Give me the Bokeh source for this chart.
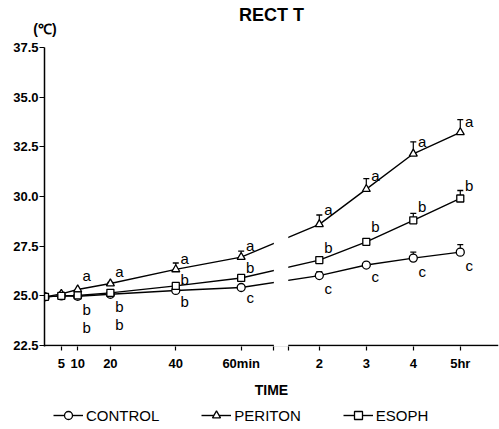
from bokeh.plotting import figure
from bokeh.layouts import column
from bokeh.models import (Range1d, FixedTicker, Legend, LegendItem, NumeralTickFormatter,
                          LinearAxis)
from bokeh.embed import file_html
from bokeh.resources import INLINE
from bokeh.core.properties import value

# ---------------- data ----------------
minutes = [0, 5, 10, 20, 40, 60]
hours = [2, 3, 4, 5]
minute_labels = ["5", "10", "20", "40", "60min"]
hour_labels = ["2", "3", "4", "5hr"]

control = [24.95, 25.0, 24.98, 25.08, 25.27, 25.42, 26.02, 26.55, 26.9, 27.2]
periton = [24.95, 25.1, 25.32, 25.62, 26.33, 26.95, 28.6, 30.37, 32.15, 33.23]
esoph = [24.95, 25.0, 25.02, 25.15, 25.5, 25.9, 26.8, 27.72, 28.8, 29.9]
control_err = [0, 0, 0, 0, 0, 0, 0.2, 0, 0.3, 0.38]
periton_err = [0, 0, 0, 0.05, 0.32, 0.3, 0.47, 0.53, 0.6, 0.64]
esoph_err = [0, 0, 0, 0, 0, 0, 0, 0.1, 0.35, 0.4]

# significance letters (top to bottom) per time point
letter_minutes = [10, 20, 40, 60]
letter_hours = [2, 3, 4, 5]
letters = [["a", "b", "b"], ["a", "b", "b"], ["a", "b", "b"], ["a", "b", "c"],
           ["a", "b", "c"], ["a", "b", "c"], ["a", "b", "c"], ["a", "b", "c"]]
letter_y = [[26.0, 24.3, 23.4], [26.25, 24.45, 23.55], [26.9, 25.8, 24.73], [27.53, 26.45, 24.92],
            [29.35, 27.45, 25.35], [31.05, 28.5, 25.95], [32.75, 29.5, 26.25], [33.8, 30.55, 26.55]]

y_ticks = [22.5, 25.0, 27.5, 30.0, 32.5, 35.0, 37.5]

# ---------------- broken time scale ----------------
HOUR_ORIGIN = 55.16   # axis unit of hour 0 on the right-hand segment
HOUR_SCALE = 14.37    # axis units per hour on the right-hand segment
BREAK_LEFT, BREAK_RIGHT = 70.0, 74.4


def hpos(h):
    return HOUR_ORIGIN + HOUR_SCALE * h


xs = [float(m) for m in minutes] + [hpos(h) for h in hours]

FONT = value("Liberation Sans")

p = figure(width=499, height=400, output_backend="svg", toolbar_location=None,
           x_range=Range1d(-0.15, 138.7), y_range=Range1d(22.45, 37.5),
           min_border_left=44, min_border_right=1, min_border_top=47, min_border_bottom=52)
p.outline_line_color = None
p.grid.visible = False
p.background_fill_color = "white"
p.border_fill_color = "white"

# y axis
p.yaxis.ticker = FixedTicker(ticks=y_ticks)
p.yaxis.formatter = NumeralTickFormatter(format="0.0")
p.yaxis.major_tick_in = 0
p.yaxis.major_tick_out = 5
p.yaxis.minor_tick_line_color = None
p.yaxis.axis_line_width = 1.5
p.yaxis.major_label_text_font = "Liberation Sans"
p.yaxis.major_label_text_font_style = "bold"
p.yaxis.major_label_text_font_size = "13px"
p.yaxis.major_label_text_color = "black"
p.yaxis.major_label_standoff = 1
p.yaxis.axis_line_color = "black"

# x axis (line drawn manually so that it can be broken)
x_ticks = [float(m) for m in minutes[1:]] + [hpos(h) for h in hours] + [BREAK_LEFT, BREAK_RIGHT]
overrides = {}
for t, lab in zip([float(m) for m in minutes[1:]], minute_labels):
    overrides[t] = lab
for h, lab in zip(hours, hour_labels):
    overrides[hpos(h)] = lab
overrides[BREAK_LEFT] = ""
overrides[BREAK_RIGHT] = ""
p.xaxis.ticker = FixedTicker(ticks=x_ticks)
p.xaxis.major_label_overrides = overrides
p.xaxis.axis_line_color = None
p.xaxis.major_tick_in = 0
p.xaxis.major_tick_out = 4
p.xaxis.major_tick_line_width = 1.2
p.xaxis.minor_tick_line_color = None
p.xaxis.major_label_text_font = "Liberation Sans"
p.xaxis.major_label_text_font_style = "bold"
p.xaxis.major_label_text_font_size = "13px"
p.xaxis.major_label_text_color = "black"
p.xaxis.major_label_standoff = 5
p.xaxis.axis_label = "TIME"
p.xaxis.axis_label_text_font = "Liberation Sans"
p.xaxis.axis_label_text_font_style = "bold"
p.xaxis.axis_label_text_font_size = "14px"
p.xaxis.axis_label_text_color = "black"
p.xaxis.axis_label_standoff = 8

# top axis: carries the unit "(℃)" at the origin and the title "RECT T"
top = LinearAxis(ticker=FixedTicker(ticks=[0.0]), major_label_overrides={0.0: "(℃)"},
                 axis_line_color=None, major_tick_line_color=None, minor_tick_line_color=None,
                 major_tick_in=0, major_tick_out=0, major_label_standoff=11,
                 major_label_text_align="right",
                 major_label_text_font="Liberation Sans", major_label_text_font_style="bold",
                 major_label_text_font_size="14px", major_label_text_color="black",
                 axis_label="RECT T", axis_label_standoff=-7,
                 axis_label_text_font="Liberation Sans", axis_label_text_font_style="bold",
                 axis_label_text_font_size="18px", axis_label_text_color="black")
p.add_layout(top, "above")

p.segment(x0=[-0.15], y0=[y_ticks[0]], x1=[138.7], y1=[y_ticks[0]], line_color="black", line_width=1.5)

# series
series = [("CONTROL", control, control_err, "circle", 8),
          ("PERITON", periton, periton_err, "triangle", 8),
          ("ESOPH", esoph, esoph_err, "square", 7)]

for name, vals, errs, marker, size in series:
    p.line(xs, vals, line_color="black", line_width=1.4)

# break in the lines and in the axis
p.quad(left=[BREAK_LEFT], right=[BREAK_RIGHT], bottom=[22.45], top=[37.5],
       fill_color="white", line_color=None)

for name, vals, errs, marker, size in series:
    ex = [x for x, e in zip(xs, errs) if e > 0]
    ey0 = [v for v, e in zip(vals, errs) if e > 0]
    ey1 = [v + e for v, e in zip(vals, errs) if e > 0]
    p.segment(x0=ex, y0=ey0, x1=ex, y1=ey1, line_color="black", line_width=1.2)
    p.scatter(ex, ey1, marker="dash", size=6, line_color="black", line_width=1.4)
    p.scatter(xs, vals, marker=marker, size=size, fill_color="white",
              line_color="black", line_width=1.3)

# significance letters
lx, ly, lt = [], [], []
lpos = [float(m) for m in letter_minutes] + [hpos(h) for h in letter_hours]
for x, col_txt, col_y in zip(lpos, letters, letter_y):
    for t, y in zip(col_txt, col_y):
        lx.append(x)
        ly.append(y)
        lt.append(t)
p.text(lx, ly, text=lt, x_offset=9, text_align="center", text_baseline="middle",
       text_font=FONT, text_font_size="15px", text_color="black")

# legend strip (its renderers hold the series data, which lies outside this strip's ranges)
lg = figure(width=499, height=29, output_backend="svg", toolbar_location=None,
            x_range=Range1d(0, 1), y_range=Range1d(0, 1),
            min_border_left=0, min_border_right=0, min_border_top=0, min_border_bottom=0)
lg.axis.visible = False
lg.grid.visible = False
lg.outline_line_color = None
items = []
for name, vals, errs, marker, size in series:
    r1 = lg.line(xs, vals, line_color="black", line_width=1.4)
    r2 = lg.scatter(xs, vals, marker=marker, size=size, fill_color="white",
                    line_color="black", line_width=1.3)
    items.append(LegendItem(label=name, renderers=[r1, r2]))
legend = Legend(items=items, orientation="horizontal", location=(9, 4),
                glyph_width=30, glyph_height=20, label_standoff=3, spacing=42,
                padding=0, margin=0, border_line_color=None, background_fill_alpha=0,
                label_text_font="Liberation Sans", label_text_font_size="15px",
                label_text_color="black")
lg.add_layout(legend)

open("out.html", "w").write(file_html(column(p, lg, spacing=0), INLINE))
